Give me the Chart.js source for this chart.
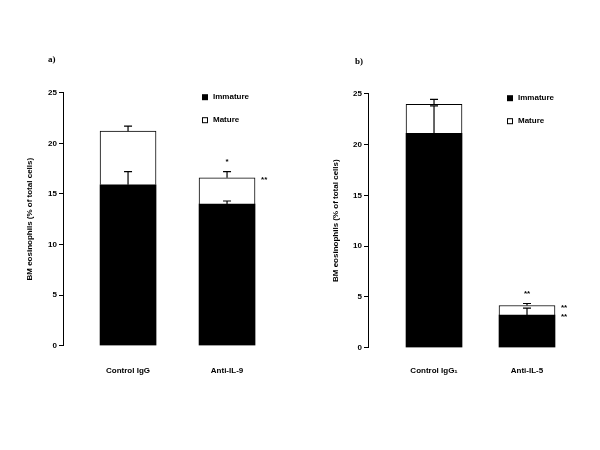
<!DOCTYPE html>
<html>
<head>
<meta charset="utf-8">
<script src="https://cdn.jsdelivr.net/npm/chart.js@4.4.1/dist/chart.umd.min.js"></script>
<style>
  body { margin: 0; background: #fff; }
  #wrap { position: relative; width: 600px; height: 450px; }
  canvas { position: absolute; top: 0; }
  .panel { position: absolute; font: bold 9px "Liberation Serif", serif; color: #000; }
</style>
</head>
<body>
<div id="wrap">
  <canvas id="chartA" width="300" height="450" style="left:0"></canvas>
  <canvas id="chartB" width="300" height="450" style="left:300px"></canvas>
  <div class="panel" style="left:48px; top:54px">a)</div>
  <div class="panel" style="left:355px; top:56px">b)</div>
</div>
<script>
// panel a
const catsA = ['Control IgG', 'Anti-IL-9'];
const immatureA = [15.9, 14.0];
const matureA = [5.3, 2.6];
const immErrA = [1.3, 0.3];
const totalErrA = [0.5, 0.6];
const starTopA = ['', '*'];
const starTotalA = ['', '**'];
const starImmA = ['', ''];

// panel b
const catsB = ['Control IgG\u2081', 'Anti-IL-5'];
const immatureB = [21.1, 3.2];
const matureB = [2.85, 0.95];
const immErrB = [2.7, 0.7];
const totalErrB = [0.5, 0.2];
const starTopB = ['', '**'];
const starTotalB = ['', '**'];
const starImmB = ['', '**'];

const yTicks = [0, 5, 10, 15, 20, 25];
const legendNames = ['Immature', 'Mature'];

const font = 'Liberation Sans, Arial, sans-serif';

// error bars, stars and legend
const extrasPlugin = {
  id: 'extras',
  afterDatasetsDraw(chart) {
    const p = chart.options.plugins.extras;
    const ctx = chart.ctx;
    const xs = chart.scales.x, ys = chart.scales.y;
    ctx.save();
    ctx.strokeStyle = '#000';
    ctx.lineWidth = 1.2;
    function errBar(x, v0, v1) {
      const yA = ys.getPixelForValue(v0), yB = ys.getPixelForValue(v1);
      ctx.beginPath();
      ctx.moveTo(x, yA); ctx.lineTo(x, yB);
      ctx.moveTo(x - 4, yB); ctx.lineTo(x + 4, yB);
      ctx.stroke();
    }
    ctx.fillStyle = '#000';
    ctx.font = 'bold 8px ' + font;
    p.imm.forEach((v, i) => {
      const x = xs.getPixelForValue(i);
      const tot = v + p.mat[i];
      errBar(x, v, v + p.immErr[i]);
      errBar(x, tot, tot + p.totErr[i]);
      const half = chart.options.datasets.bar.barThickness / 2;
      ctx.textAlign = 'center';
      ctx.textBaseline = 'middle';
      if (p.starTop[i]) ctx.fillText(p.starTop[i], x, ys.getPixelForValue(tot + p.totErr[i]) - 10);
      ctx.textAlign = 'left';
      if (p.starTot[i]) ctx.fillText(p.starTot[i], x + half + 6, ys.getPixelForValue(tot) + 2);
      if (p.starImm[i]) ctx.fillText(p.starImm[i], x + half + 6, ys.getPixelForValue(v) + 2);
    });
    // legend
    const lx = chart.chartArea.left + 139;
    const ly = chart.chartArea.top + 4.5;
    ctx.textAlign = 'left';
    ctx.textBaseline = 'middle';
    legendNames.forEach((name, k) => {
      const yy = ly + k * 23;
      ctx.lineWidth = 1;
      if (k === 0) { ctx.fillRect(lx, yy - 3, 6, 6); }
      else { ctx.strokeRect(lx + 0.5, yy - 2.5, 5, 5); }
      ctx.fillText(name, lx + 11, yy);
    });
    ctx.restore();
  }
};

function makeChart(id, cats, imm, mat, immErr, totErr, starTop, starTot, starImm, xMin, xMax, left, top, bottomH, titlePad, labelPad) {
  const toPts = arr => arr.map((v, i) => ({ x: i, y: v }));
  return new Chart(document.getElementById(id), {
    type: 'bar',
    data: {
      datasets: [
        { label: legendNames[0], data: toPts(imm), backgroundColor: '#000', borderWidth: 0 },
        { label: legendNames[1], data: toPts(mat), backgroundColor: '#fff', borderColor: '#000', borderWidth: 1 }
      ]
    },
    options: {
      responsive: false,
      animation: false,
      datasets: { bar: { barThickness: 56 } },
      layout: { padding: { top: top, left: 0, right: 0, bottom: 0 } },
      plugins: {
        legend: { display: false },
        tooltip: { enabled: false },
        extras: { imm, mat, immErr, totErr, starTop, starTot, starImm }
      },
      scales: {
        x: {
          type: 'linear',
          stacked: true,
          offset: false,
          min: xMin,
          max: xMax,
          grid: { display: false },
          border: { display: false },
          afterBuildTicks: s => { s.ticks = cats.map((c, i) => ({ value: i })); },
          afterFit: s => { s.height = bottomH; },
          ticks: {
            padding: labelPad,
            color: '#000',
            maxRotation: 0,
            font: { family: font, size: 8, weight: 'bold' },
            callback: v => cats[v]
          }
        },
        y: {
          stacked: true,
          min: 0,
          max: 25,
          afterBuildTicks: s => { s.ticks = yTicks.map(v => ({ value: v })); },
          afterFit: s => { s.width = left; },
          grid: { display: true, drawOnChartArea: false, drawTicks: true, tickLength: 4, color: '#000', lineWidth: 1 },
          border: { display: true, color: '#000', width: 1 },
          ticks: {
            padding: 2,
            color: '#000',
            font: { family: font, size: 8, weight: 'bold' }
          },
          title: {
            display: true,
            text: 'BM eosinophils (% of total cells)',
            color: '#000',
            padding: { top: titlePad, bottom: 0 },
            font: { family: font, size: 8, weight: 'bold' }
          }
        }
      }
    },
    plugins: [extrasPlugin]
  });
}

makeChart('chartA', catsA, immatureA, matureA, immErrA, totalErrA, starTopA, starTotalA, starImmA, -0.657, 1.737, 63, 92.7, 104.3, 25, 12);
makeChart('chartB', catsB, immatureB, matureB, immErrB, totalErrB, starTopB, starTotalB, starImmB, -0.71, 1.785, 68, 93.7, 102.3, 31, 10);
</script>
</body>
</html>
